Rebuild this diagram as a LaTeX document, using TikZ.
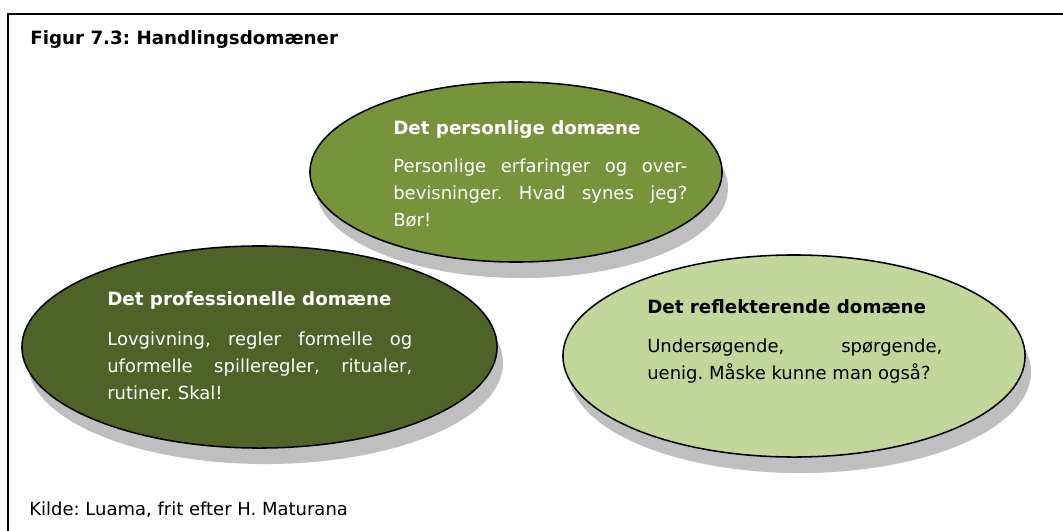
\documentclass[tikz,border=0pt]{standalone}
\usepackage{fontspec}
\setmainfont{DejaVu Sans}
\usepackage{xcolor}
\usetikzlibrary{shapes.geometric,shadows}
\definecolor{persgreen}{HTML}{77933C}
\definecolor{profgreen}{HTML}{4F6228}
\definecolor{reflgreen}{HTML}{C3D69B}
\definecolor{shadowgrey}{HTML}{BFBFBF}
\newcommand{\bodysize}{\fontsize{12.8}{19.2}\selectfont\frenchspacing}
\newcommand{\headsize}{\fontsize{13}{16}\selectfont\bfseries\frenchspacing}

\begin{document}
\begin{tikzpicture}[x=0.025cm,y=-0.025cm,
  domainshape/.style={ellipse,draw=black,line width=1.1pt,inner sep=0pt,
    drop shadow={shadow xshift=0.15cm,shadow yshift=-0.4cm,opacity=1,fill=shadowgrey}},
  heading/.style={anchor=base west,inner sep=0pt,font=\headsize},
  bodytext/.style={anchor=north west,inner sep=0pt,align=justify,font=\bodysize}]
  \useasboundingbox (0,0) rectangle (1063,531);
  % frame and captions
  \draw[line width=1.5pt] (8,531) -- (8,14) -- (1063,14);
  \node[heading] (title) at (30,45) {Figur 7.3: Handlingsdomæner};
  \node[anchor=base west,inner sep=0pt,font=\bodysize] (source) at (29,515) {Kilde: Luama, frit efter H. Maturana};
  % the personal domain
  \node[domainshape,fill=persgreen,minimum width=10.3cm,minimum height=4.5cm] (pers) at (516,172) {};
  \node[heading,white] (pershead) at (393,135) {Det personlige domæne};
  \node[bodytext,white,text width=7.35cm] (perstext) at (393,159)
    {Personlige erfaringer og over-\linebreak bevisninger. Hvad synes jeg?\linebreak Bør!};
  % the professional domain
  \node[domainshape,fill=profgreen,minimum width=11.875cm,minimum height=5.05cm] (prof) at (259.5,347) {};
  \node[heading,white] (profhead) at (107,305) {Det professionelle domæne};
  \node[bodytext,white,text width=7.625cm] (proftext) at (107,332)
    {Lovgivning, regler formelle og\linebreak uformelle spilleregler, ritualer,\linebreak rutiner. Skal!};
  % the reflecting domain
  \node[domainshape,fill=reflgreen,minimum width=11.55cm,minimum height=5.05cm] (refl) at (794,356) {};
  \node[heading,black] (reflhead) at (647,313) {Det reflekterende domæne};
  \node[bodytext,black,text width=7.375cm] (refltext) at (647,339)
    {Undersøgende, spørgende,\linebreak uenig. Måske kunne man også?};
\end{tikzpicture}
\end{document}
